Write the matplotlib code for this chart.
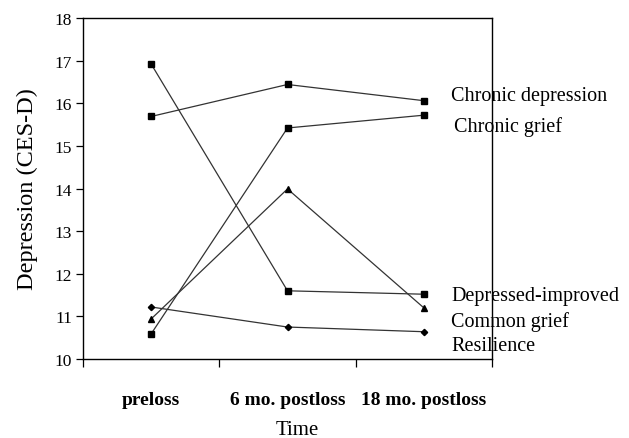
import matplotlib
matplotlib.use("Agg")
import matplotlib.pyplot as plt

times = ["preloss", "6 mo. postloss", "18 mo. postloss"]
chronic_depression = [15.69, 16.44, 16.06]
chronic_grief = [10.59, 15.42, 15.72]
depressed_improved = [16.92, 11.60, 11.52]
common_grief = [10.94, 13.99, 11.20]
resilience = [11.22, 10.75, 10.64]

series_names = ["Chronic depression", "Chronic grief", "Depressed-improved",
                "Common grief", "Resilience"]
label_y = [16.18, 15.47, 11.48, 10.89, 10.32]

plt.rcParams['font.family'] = ['Liberation Serif', 'DejaVu Serif']

fig = plt.figure(figsize=(6.29, 4.39), dpi=100)
ax = fig.add_axes([83/629, 1 - 360/439, (492-83)/629, (360-19)/439])

x = list(range(len(times)))
all_series = [chronic_depression, chronic_grief, depressed_improved, common_grief, resilience]
markers = ['s', 's', 's', '^', 'D']
msizes = [4.5, 4.5, 4.5, 4.2, 3.2]
for vals, m, ms in zip(all_series, markers, msizes):
    ax.plot(x, vals, color='#333333', lw=0.9, marker=m, markersize=ms,
            markerfacecolor='black', markeredgecolor='black', clip_on=False)

for name, ly, dx in zip(series_names, label_y, [2.2, 2.22, 2.2, 2.2, 2.2]):
    ax.text(dx, ly, name, fontsize=14.5, va='center', ha='left', clip_on=False)

ax.set_xlim(-0.5, 2.5)
ax.set_ylim(10, 18)
ax.set_yticks(range(10, 19))
ax.set_yticklabels([str(v) for v in range(10, 19)], fontsize=12.5)
ax.tick_params(axis='y', direction='out', length=5, width=0.9, pad=3, colors='black')

ax.set_xticks(x)
ax.set_xticklabels(times, fontsize=14, fontweight='bold')
ax.tick_params(axis='x', which='major', length=0, pad=23)
ax.set_xticks([-0.5, 0.5, 1.5, 2.5], minor=True)
ax.tick_params(axis='x', which='minor', direction='out', length=6, width=0.9)

for s in ax.spines.values():
    s.set_linewidth(1.0)
    s.set_color('black')

ax.set_ylabel("Depression (CES-D)", fontsize=17.5, labelpad=12)
ax.set_xlabel("Time", fontsize=15)
ax.xaxis.set_label_coords(0.525, -0.178)

fig.savefig("out.png", dpi=100)
